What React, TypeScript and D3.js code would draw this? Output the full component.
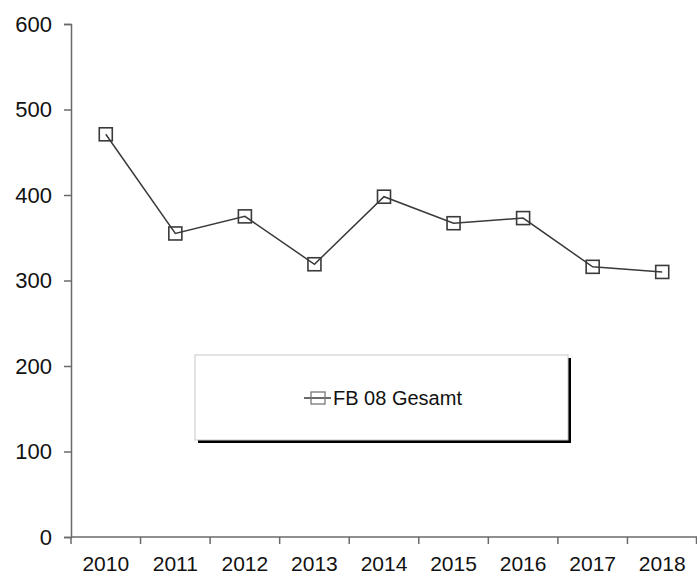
import { useRef, useEffect } from 'react'
import * as d3 from 'd3'

const years = ['2010', '2011', '2012', '2013', '2014', '2015', '2016', '2017', '2018']
const gesamt = [471, 355, 375, 319, 398, 367, 373, 316, 310]
const yTicks = [0, 100, 200, 300, 400, 500, 600]
const seriesName = 'FB 08 Gesamt'

const W = 697
const H = 576
const MARGIN = { top: 24, right: 0, bottom: 39, left: 71 }
const AXIS = '#6a6a6a'
const LINE = '#3a3a3a'
const FONT = "'Liberation Sans', Arial, sans-serif"

export default function App() {
  const svgRef = useRef<SVGSVGElement>(null)

  useEffect(() => {
    const svg = svgRef.current
    if (!svg) return
    const sel = d3.select(svg)
    sel.selectAll('*').remove()

    const w = W - MARGIN.left - MARGIN.right
    const h = H - MARGIN.top - MARGIN.bottom

    const x = d3.scaleBand().domain(years).range([0, w]).padding(0)
    const y = d3.scaleLinear().domain([0, 600]).range([h, 0])
    const cx = (d: string) => x(d)! + x.bandwidth() / 2

    const g = sel.append('g').attr('transform', `translate(${MARGIN.left},${MARGIN.top})`)

    // y axis
    const yAxis = d3.axisLeft(y).tickValues(yTicks).tickSize(7).tickPadding(12).tickFormat(d3.format('d'))
    g.append('g')
      .call(yAxis)
      .call((a) => a.select('.domain').attr('stroke', AXIS).attr('stroke-width', 1.5))
      .call((a) => a.selectAll('.tick line').attr('stroke', AXIS).attr('stroke-width', 1.5))
      .call((a) =>
        a.selectAll('.tick text').attr('fill', '#111').attr('font-size', '22px').attr('font-family', FONT),
      )

    // x axis: ticks between categories
    const xAxisG = g.append('g').attr('transform', `translate(0,${h})`)
    xAxisG.append('line').attr('x1', 0).attr('x2', w).attr('stroke', AXIS).attr('stroke-width', 1.5)
    const bounds = years.map((d) => x(d)!).concat([w - 0.5])
    xAxisG.selectAll('line.tk').data(bounds).enter().append('line')
      .attr('class', 'tk')
      .attr('x1', (d) => d).attr('x2', (d) => d)
      .attr('y1', 0).attr('y2', 7)
      .attr('stroke', AXIS).attr('stroke-width', 1.5)
    xAxisG.selectAll('text').data(years).enter().append('text')
      .attr('x', (d) => cx(d))
      .attr('y', 34)
      .attr('text-anchor', 'middle')
      .attr('font-size', '21px')
      .attr('font-family', FONT)
      .attr('fill', '#111')
      .text((d) => d)

    // line
    const line = d3.line<number>().x((_, i) => cx(years[i])).y((d) => y(d))
    g.append('path').datum(gesamt).attr('d', line).attr('fill', 'none').attr('stroke', LINE).attr('stroke-width', 1.5)

    const S = 13
    g.selectAll('rect.mk').data(gesamt).enter().append('rect')
      .attr('class', 'mk')
      .attr('x', (_, i) => cx(years[i]) - S / 2)
      .attr('y', (d) => y(d) - S / 2)
      .attr('width', S).attr('height', S)
      .attr('fill', 'none').attr('stroke', LINE).attr('stroke-width', 1.6)

    // legend
    const lg = sel.append('g')
    const lx = 195, ly = 355, lw = 373, lh = 85
    lg.append('rect').attr('x', lx + 3).attr('y', ly + 3).attr('width', lw).attr('height', lh).attr('fill', '#000')
    lg.append('rect').attr('x', lx).attr('y', ly).attr('width', lw).attr('height', lh)
      .attr('fill', '#fff').attr('stroke', '#c8c8c8').attr('stroke-width', 1)
    const my = 398
    lg.append('line').attr('x1', 304).attr('x2', 331).attr('y1', my).attr('y2', my).attr('stroke', LINE).attr('stroke-width', 1.5)
    lg.append('rect').attr('x', 318 - 7).attr('y', my - 6).attr('width', 14).attr('height', 12)
      .attr('fill', 'none').attr('stroke', '#777').attr('stroke-width', 1.3)
    lg.append('text').attr('x', 333).attr('y', my + 7)
      .attr('font-size', '20px').attr('font-family', FONT).attr('fill', '#111')
      .text(seriesName)
  }, [])

  return (
    <svg
      ref={svgRef}
      width={W}
      height={H}
      style={{ position: 'absolute', left: 0, top: 0, background: '#fff' }}
    />
  )
}
